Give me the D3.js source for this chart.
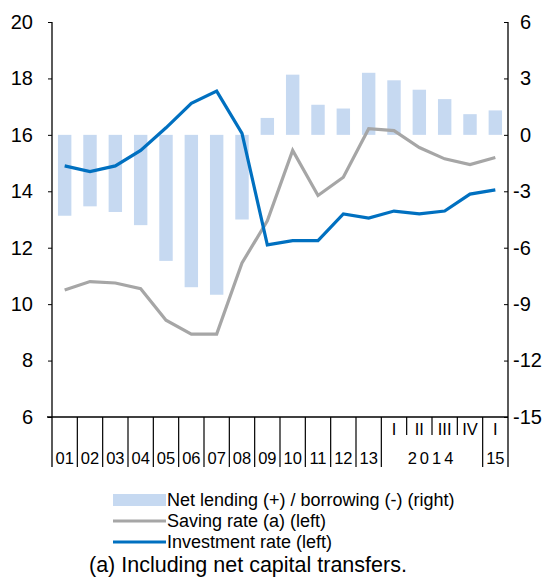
<!DOCTYPE html>
<meta charset="utf-8">
<script src="https://d3js.org/d3.v7.min.js"></script>
<style>
  body { margin: 0; background: #fff; }
  text { font-family: "Liberation Sans", Arial, sans-serif; fill: #000; }
</style>
<body>
<div id="chart"></div>
<script>

// periods on the x axis
var periods = ["2001","2002","2003","2004","2005","2006","2007","2008","2009","2010",
  "2011","2012","2013","2014Q1","2014Q2","2014Q3","2014Q4","2015Q1"];
var yearLabels = ["01","02","03","04","05","06","07","08","09","10","11","12","13"];
var quarterLabels = ["I","II","III","IV","I"];

// % of GDP
var netLending = [-4.3,-3.8,-4.1,-4.8,-6.7,-8.1,-8.5,-4.5,0.9,3.2,1.6,1.4,3.3,2.9,2.4,1.9,1.1,1.3];
var savingRate = [10.5,10.8,10.75,10.55,9.43,8.94,8.94,11.46,12.95,15.45,13.85,14.5,16.22,16.15,15.55,15.15,14.95,15.2];
var investmentRate = [14.9,14.7,14.9,15.45,16.25,17.12,17.55,16.05,12.1,12.25,12.25,13.2,13.05,13.3,13.2,13.3,13.9,14.05];

var leftTicks = [6,8,10,12,14,16,18,20];
var rightTicks = [-15,-12,-9,-6,-3,0,3,6];

var W = 546, H = 579;
var margin = {top: 22, right: 38, bottom: 162, left: 52},
    width = W - margin.left - margin.right,
    height = H - margin.top - margin.bottom;

var svg = d3.select("#chart")
  .append("svg")
    .attr("width", W)
    .attr("height", H)
  .append("g")
    .attr("transform", "translate(" + margin.left + "," + margin.top + ")");

var x = d3.scaleBand()
  .domain(periods)
  .range([0, width])
  .paddingInner(0.47)
  .paddingOuter(0.235);

var step = width / periods.length;
var xc = function(i) { return step * i + step / 2; };

var yL = d3.scaleLinear().domain([6, 20]).range([height, 0]);
var yR = d3.scaleLinear().domain([-15, 6]).range([height, 0]);

// bars
svg.selectAll(".bar")
  .data(netLending)
  .enter().append("rect")
    .attr("class", "bar")
    .attr("x", function(d, i) { return x(periods[i]); })
    .attr("width", x.bandwidth())
    .attr("y", function(d) { return yR(Math.max(0, d)); })
    .attr("height", function(d) { return Math.abs(yR(d) - yR(0)); })
    .attr("fill", "#c6d9f1");

// lines
var line = function(scale) {
  return d3.line()
    .x(function(d, i) { return xc(i); })
    .y(function(d) { return scale(d); });
};

svg.append("path")
  .datum(savingRate)
  .attr("fill", "none")
  .attr("stroke", "#a6a6a6")
  .attr("stroke-width", 3.2)
  .attr("d", line(yL));

svg.append("path")
  .datum(investmentRate)
  .attr("fill", "none")
  .attr("stroke", "#0070c0")
  .attr("stroke-width", 3.2)
  .attr("d", line(yL));

// axes
var leftAxis = svg.append("g")
  .call(d3.axisLeft(yL).tickValues(leftTicks).tickSize(4).tickPadding(15).tickSizeOuter(0));
leftAxis.select(".domain").remove();
leftAxis.selectAll("text").style("font-size", "20px").attr("font-family", null);

var rightAxis = svg.append("g")
  .attr("transform", "translate(" + width + ",0)")
  .call(d3.axisRight(yR).tickValues(rightTicks).tickSize(-4).tickPadding(12).tickSizeOuter(0)
    .tickFormat(function(d) { return d; }));
rightAxis.select(".domain").remove();
rightAxis.selectAll("text")
  .style("font-size", "20px").attr("font-family", null)
  .attr("dx", function(d) { return d < 0 ? -7 : 0; });

svg.selectAll(".tick line").attr("stroke", "#000");

// frame lines: vertical axes run down through the label rows
var axisBottom = 50;
svg.append("line").attr("x1", 0).attr("x2", 0).attr("y1", 0).attr("y2", height + axisBottom)
  .attr("stroke", "#000").attr("stroke-width", 1.3);
svg.append("line").attr("x1", width).attr("x2", width).attr("y1", 0).attr("y2", height + axisBottom)
  .attr("stroke", "#000").attr("stroke-width", 1.3);
svg.append("line").attr("x1", -5).attr("x2", width).attr("y1", height).attr("y2", height)
  .attr("stroke", "#000").attr("stroke-width", 1.3);

// category separators
var xAxisG = svg.append("g").attr("transform", "translate(0," + height + ")");
periods.forEach(function(p, i) {
  if (i === 0) return;
  var quarterInner = i >= 14 && i <= 16;
  xAxisG.append("line")
    .attr("x1", step * i).attr("x2", step * i)
    .attr("y1", 0).attr("y2", quarterInner ? 18 : axisBottom)
    .attr("stroke", "#000").attr("stroke-width", 1.2);
});

yearLabels.forEach(function(t, i) {
  xAxisG.append("text")
    .attr("x", xc(i)).attr("y", 47)
    .attr("text-anchor", "middle")
    .style("font-size", "16.5px")
    .text(t);
});
quarterLabels.forEach(function(t, i) {
  xAxisG.append("text")
    .attr("x", xc(13 + i)).attr("y", 18)
    .attr("text-anchor", "middle")
    .style("font-size", "16.5px")
    .text(t);
});
xAxisG.append("text")
  .attr("x", (step * 13 + step * 17) / 2).attr("y", 47)
  .attr("text-anchor", "middle")
  .style("font-size", "16.5px")
  .style("letter-spacing", "3px")
  .text("2014");
xAxisG.append("text")
  .attr("x", xc(17)).attr("y", 47)
  .attr("text-anchor", "middle")
  .style("font-size", "16.5px")
  .text("15");

// legend
var legend = d3.select("svg").append("g");
var items = [
  {label: "Net lending (+) / borrowing (-) (right)", type: "bar", color: "#c6d9f1"},
  {label: "Saving rate (a) (left)", type: "line", color: "#a6a6a6"},
  {label: "Investment rate (left)", type: "line", color: "#0070c0"}
];
items.forEach(function(it, i) {
  var cy = 500 + i * 21;
  if (it.type === "bar") {
    legend.append("rect").attr("x", 113).attr("y", cy - 6).attr("width", 53).attr("height", 12)
      .attr("fill", it.color);
  } else {
    legend.append("line").attr("x1", 113).attr("x2", 166).attr("y1", cy).attr("y2", cy)
      .attr("stroke", it.color).attr("stroke-width", 3);
  }
  legend.append("text").attr("x", 167).attr("y", cy + 6)
    .style("font-size", "18px").text(it.label);
});

legend.append("text").attr("x", 89).attr("y", 572)
  .style("font-size", "21.5px")
  .text("(a) Including net capital transfers.");

</script>
</body>
</html>
